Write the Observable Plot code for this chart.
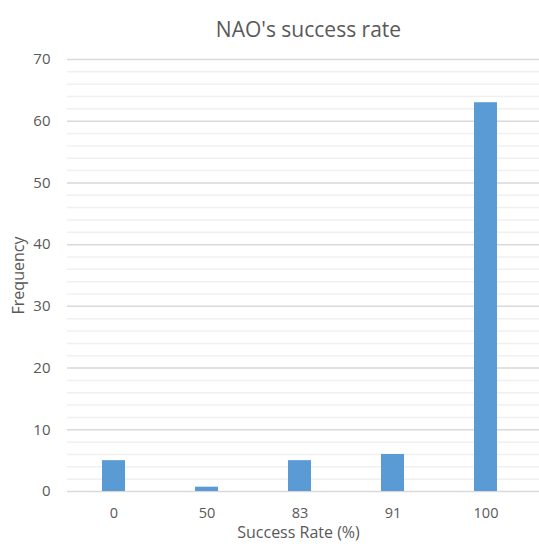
<!DOCTYPE html>
<html><head><meta charset="utf-8">
<script src="https://cdn.jsdelivr.net/npm/d3@7"></script>
<script src="https://cdn.jsdelivr.net/npm/@observablehq/plot@0.6"></script>
<style>body{margin:0;background:#fff}</style>
</head><body><div id="chart"></div>
<script>
const categories = ["0", "50", "83", "91", "100"];
const frequency = [5, 0.7, 5, 6, 63];
const majorTicks = [0, 10, 20, 30, 40, 50, 60, 70];
const minorTicks = d3.range(0, 71, 2).filter(v => v % 10 !== 0);
const title = "NAO's success rate";
const xLabel = "Success Rate (%)";
const yLabel = "Frequency";

const data = categories.map((c, i) => ({c, f: frequency[i]}));
const font = "'Open Sans', sans-serif";

const chart = Plot.plot({
  width: 539, height: 547,
  marginLeft: 67, marginRight: 0, marginTop: 59, marginBottom: 56,
  style: {fontFamily: font, color: "#595959", background: "#fff"},
  x: {domain: categories, range: [67, 532], paddingInner: 0.75, paddingOuter: 0.375, label: null},
  y: {domain: [0, 70], label: null},
  marks: [
    Plot.ruleY(minorTicks, {stroke: "#f0f0f0", strokeWidth: 1.5}),
    Plot.ruleY(majorTicks, {stroke: "#d9d9d9", strokeWidth: 1.5}),
    Plot.barY(data, {x: "c", y: "f", fill: "#5b9bd5"}),
    Plot.axisX({tickSize: 0, tickPadding: 16, fontSize: 14.5, label: null, fill: "#595959"}),
    Plot.axisY({ticks: majorTicks, tickSize: 0, tickPadding: 17, fontSize: 15, label: null, fill: "#595959"}),
    Plot.text([title], {frameAnchor: "top", dy: -37, dx: 5, fontSize: 21, fill: "#595959"}),
    Plot.text([xLabel], {frameAnchor: "bottom", dy: 46, dx: -5, fontSize: 16, fill: "#595959"}),
    Plot.text([yLabel], {frameAnchor: "left", textAnchor: "middle", dx: -49, rotate: -90, fontSize: 16, fill: "#595959"})
  ]
});
document.getElementById("chart").append(chart);
</script>
</body></html>
